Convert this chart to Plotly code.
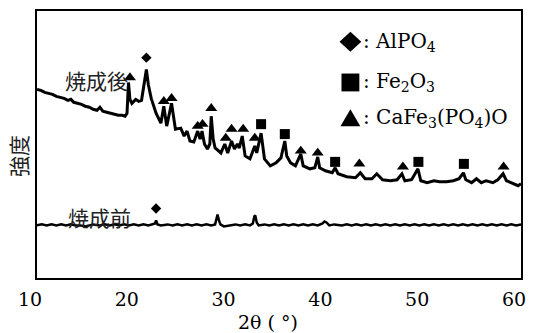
import plotly.graph_objects as go

# XRD patterns: 2θ (deg) and intensity (arbitrary units)
after_2theta = [10.0, 10.4, 10.8, 11.2, 11.6, 12.0, 12.4, 12.8, 13.2, 13.5, 13.8, 14.2, 14.6,
                15.0, 15.4, 15.8, 16.2, 16.5, 16.8, 17.2, 17.6, 18.0, 18.4, 18.8, 19.1, 19.3,
                19.45, 19.6, 19.8, 20.2, 20.5, 20.8, 21.0, 21.3, 21.5, 21.8, 22.3, 22.8, 23.1,
                23.4, 23.9, 24.3, 24.85, 25.2, 25.5, 25.8, 26.2, 26.6, 26.85, 27.05, 27.3, 27.6,
                27.85, 28.0, 28.2, 28.4, 29.0, 29.4, 29.7, 30.1, 30.4, 30.7, 30.9, 31.2, 31.5,
                32.0, 32.5, 32.7, 33.15, 33.5, 34.1, 34.7, 35.2, 35.6, 35.8, 36.2, 36.7, 37.25,
                37.5, 38.2, 38.7, 39.0, 39.2, 39.8, 40.5, 40.8, 41.1, 42.0, 42.9, 43.4, 43.9,
                44.6, 45.1, 45.7, 46.5, 47.2, 47.7, 48.0, 48.7, 49.35, 49.65, 50.3, 51.0, 51.6,
                52.3, 53.0, 53.6, 54.05, 54.3, 54.9, 55.4, 55.9, 56.4, 57.1, 57.6, 58.15, 58.5,
                59.2, 59.7, 60.0]
after_int = [190, 189, 187, 186, 185, 183, 182, 181, 179, 180, 177, 176, 175,
             173, 172, 170, 169, 172, 168, 167, 166, 165, 164, 164, 163, 166,
             197, 180, 176, 180, 178, 179, 190, 210, 195, 181, 166, 156, 173,
             153, 176, 150, 151, 143, 148, 138, 137, 148, 140, 148, 135, 130,
             135, 163, 140, 131, 126, 135, 126, 138, 130, 135, 131, 143, 123,
             120, 133, 126, 146, 120, 113, 116, 121, 138, 123, 116, 113, 125,
             113, 110, 111, 122, 111, 108, 106, 111, 105, 102, 101, 106, 100,
             100, 105, 99, 98, 99, 105, 98, 99, 110, 98, 96, 98, 97,
             97, 98, 100, 106, 99, 96, 100, 96, 98, 96, 99, 105, 98,
             95, 93, 95]

before_2theta = [10.0, 10.5, 11.0, 11.5, 12.0, 12.5, 13.0, 13.5, 14.0, 14.5, 15.0, 15.3, 15.8,
                 16.5, 17.0, 17.5, 18.0, 18.5, 19.0, 19.5, 20.0, 20.5, 21.0, 21.5, 22.0, 22.2,
                 22.3, 22.45, 22.8, 23.5, 24.0, 24.5, 25.0, 25.5, 26.0, 26.5, 27.0, 27.5, 28.0,
                 28.4, 28.55, 28.65, 28.8, 28.95, 29.3, 29.8, 30.5, 31.0, 31.5, 32.0, 32.3, 32.45,
                 32.55, 32.7, 32.9, 33.5, 34.0, 34.5, 35.0, 35.5, 36.0, 36.5, 37.0, 37.5, 38.0,
                 38.5, 39.0, 39.5, 39.7, 39.9, 40.2, 40.7, 41.5, 42.0, 42.5, 43.0, 43.5, 44.0,
                 44.5, 45.0, 45.5, 46.0, 46.5, 47.0, 47.5, 48.0, 48.5, 49.0, 49.5, 50.0, 50.5,
                 51.0, 51.5, 52.0, 52.5, 53.0, 53.5, 54.0, 54.5, 55.0, 55.5, 56.0, 56.5, 57.0,
                 57.5, 58.0, 58.5, 59.0, 59.5, 60.0]
before_int = [53, 54, 53, 54, 53, 54, 53, 54, 53, 53, 52, 53, 54,
              53, 54, 53, 54, 53, 54, 53, 54, 53, 54, 53, 54, 55,
              58, 54, 53, 54, 53, 54, 53, 54, 53, 54, 53, 54, 53,
              54, 60, 64, 58, 54, 52, 53, 54, 53, 54, 53, 55, 62,
              63, 56, 53, 54, 53, 54, 53, 54, 53, 54, 53, 54, 53,
              54, 53, 55, 57, 56, 53, 54, 53, 54, 53, 54, 53, 54,
              53, 54, 53, 54, 53, 54, 53, 54, 53, 54, 53, 54, 53,
              54, 53, 54, 53, 54, 53, 54, 53, 54, 53, 54, 53, 54,
              53, 54, 53, 54, 53, 54]

# Phase markers placed above the identified reflections
alpo4_2theta = [21.3, 22.3]
alpo4_int = [222, 70]
fe2o3_2theta = [33.15, 35.6, 40.8, 49.4, 54.1]
fe2o3_int = [155, 145, 117, 117, 115]
cafe_2theta = [19.6, 23.1, 23.9, 26.6, 27.1, 28.0, 29.5, 30.1, 31.3, 32.5, 37.25, 39.0, 43.3, 47.8, 58.2]
cafe_int = [202, 178, 181, 153, 155, 171, 141, 150, 150, 141, 128, 126, 115, 112, 112]

x_ticks = [10, 20, 30, 40, 50, 60]
phase_labels = [": AlPO<sub>4</sub>", ": Fe<sub>2</sub>O<sub>3</sub>", ": CaFe<sub>3</sub>(PO<sub>4</sub>)O"]

SERIF = "DejaVu Serif"
CJK = "Noto Sans CJK JP"

W, H = 535, 333
ML, MR, MT, MB = 37, 10, 9, 55
PW, PH = W - ML - MR, H - MT - MB

fig = go.Figure()
fig.add_trace(go.Scatter(x=after_2theta, y=after_int, mode="lines",
                         line=dict(color="black", width=3), hoverinfo="skip"))
fig.add_trace(go.Scatter(x=before_2theta, y=before_int, mode="lines",
                         line=dict(color="black", width=2.5), hoverinfo="skip"))
fig.add_trace(go.Scatter(x=alpo4_2theta, y=alpo4_int, mode="markers",
                         marker=dict(symbol="diamond", size=8, color="black")))
fig.add_trace(go.Scatter(x=fe2o3_2theta, y=fe2o3_int, mode="markers",
                         marker=dict(symbol="square", size=10, color="black")))
fig.add_trace(go.Scatter(x=cafe_2theta, y=cafe_int, mode="markers",
                         marker=dict(symbol="triangle-up", size=10.5, color="black")))


def px_x(px):
    return (px - ML) / PW


def px_y(py):
    return (H - MB - py) / PH


# phase key: symbols drawn as paper-referenced shapes, labels as text
key_x = 353
key_rows = [40, 81, 117]
shapes = []
cx, cy = key_x, key_rows[0]
shapes.append(dict(type="path", xref="paper", yref="paper",
                   path=f"M {px_x(cx-11)},{px_y(cy)} L {px_x(cx)},{px_y(cy-10)} L {px_x(cx+11)},{px_y(cy)} L {px_x(cx)},{px_y(cy+10)} Z",
                   fillcolor="black", line=dict(width=0)))
cy = key_rows[1]
shapes.append(dict(type="rect", xref="paper", yref="paper",
                   x0=px_x(cx-9), x1=px_x(cx+9), y0=px_y(cy+9), y1=px_y(cy-9),
                   fillcolor="black", line=dict(width=0)))
cy = key_rows[2]
shapes.append(dict(type="path", xref="paper", yref="paper",
                   path=f"M {px_x(cx-10)},{px_y(cy+8)} L {px_x(cx+10)},{px_y(cy+8)} L {px_x(cx)},{px_y(cy-9)} Z",
                   fillcolor="black", line=dict(width=0)))

annotations = []
for label, row in zip(phase_labels, key_rows):
    annotations.append(dict(x=px_x(364), y=px_y(row), xref="paper", yref="paper",
                            text=label, showarrow=False, xanchor="left", yanchor="middle",
                            font=dict(family=SERIF, size=20, color="black")))

annotations.append(dict(x=16.15, y=199, xref="x", yref="y", text="焼成後", showarrow=False,
                        font=dict(family=CJK, size=21, color="#222")))
annotations.append(dict(x=16.45, y=61, xref="x", yref="y", text="焼成前", showarrow=False,
                        font=dict(family=CJK, size=21, color="#222")))
annotations.append(dict(x=px_x(270), y=px_y(322), xref="paper", yref="paper", text="2θ ( °)",
                        showarrow=False, xanchor="center", yanchor="middle",
                        font=dict(family=SERIF, size=19, color="black")))
annotations.append(dict(x=px_x(18), y=px_y(155), xref="paper", yref="paper", text="強度",
                        showarrow=False, textangle=-90, xanchor="center", yanchor="middle",
                        font=dict(family=CJK, size=21, color="#222")))

fig.update_layout(
    width=W, height=H,
    margin=dict(l=ML, r=MR, t=MT, b=MB),
    paper_bgcolor="white", plot_bgcolor="white",
    showlegend=False,
    shapes=shapes,
    annotations=annotations,
    xaxis=dict(range=[10, 60], tickvals=x_ticks, ticktext=[str(v) for v in x_ticks],
               showgrid=False, zeroline=False, ticks="", showline=True, mirror=True,
               linecolor="black", linewidth=2, ticklabelstandoff=3, ticklabelshift=-7,
               tickfont=dict(family=SERIF, size=19, color="black")),
    yaxis=dict(range=[0, 269], showticklabels=False, showgrid=False, zeroline=False,
               ticks="", showline=True, mirror=True, linecolor="black", linewidth=2),
)

fig.write_html("out.html")
